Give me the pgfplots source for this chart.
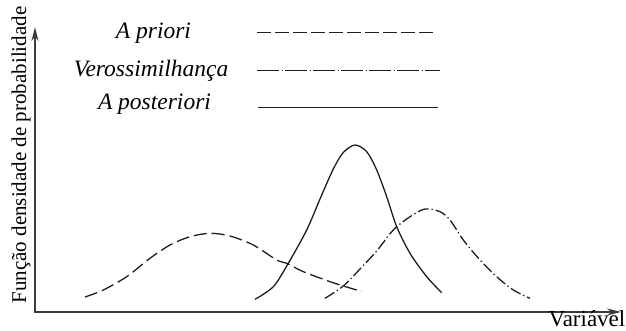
\documentclass[border=0pt]{standalone}
\usepackage{pgfplots}
\pgfplotsset{compat=1.18}
\usepackage{fontspec}
\setmainfont{Liberation Serif}
\usetikzlibrary{arrows.meta}
\definecolor{ink}{HTML}{1E1E1E}
\definecolor{axisgray}{HTML}{3A3A3A}

\begin{document}
\begin{tikzpicture}
\begin{axis}[
  x=1pt, y=1pt,
  xmin=35, xmax=620, ymin=19, ymax=303,
  hide axis,
  clip=false,
]
% axis lines
\draw[axisgray, line width=2pt, -{Stealth[length=14pt,width=7pt]}] (axis cs:34,19) -- (axis cs:621,19);
\draw[axisgray, line width=2pt, -{Stealth[length=14pt,width=7pt]}] (axis cs:35,18) -- (axis cs:35,304);
% A priori (dashed)
\addplot[ink, line width=1.3pt, smooth, dash pattern={on 13pt off 5pt}] coordinates {
 (85,34) (103.3,41) (126.7,54.3) (150,72.7) (170,86) (190,94.3) (210,97.7)
 (230,95) (253.3,86) (276.7,71) (286.7,67.7) (303.3,59.3) (330,49.3) (340,46) (361.7,39.5)
};
% Verossimilhanca (dash-dot)
\addplot[ink, line width=1.3pt, smooth, dash pattern={on 11pt off 3pt on 1.3pt off 3pt}] coordinates {
 (325,32.7) (343.3,45) (360,62) (376.7,80) (393.3,101) (410,114.3) (425,122)
 (440,119.3) (450,111) (463.3,91) (480,71) (496.7,54.3) (513.3,41) (530,32.7)
};
% A posteriori (solid)
\addplot[ink, line width=1.3pt, smooth] coordinates {
 (255,31.7) (273.3,44.3) (288.3,67.7) (306.7,101) (320,132) (333.3,162) (343.3,178.5)
 (355,186) (366.7,179.3) (376.7,161) (386.7,134.3) (396.7,104.3) (410,77.7) (426.7,54.3) (441.7,38.3)
};
% legend sample lines
\addplot[ink, line width=1pt, dash pattern={on 14pt off 4pt}, forget plot] coordinates {(257,298) (435,298)};
\addplot[ink, line width=1pt, dash pattern={on 22pt off 2.5pt on 1pt off 2.5pt}, forget plot] coordinates {(257,260) (440,260)};
\addplot[ink, line width=1pt, forget plot] coordinates {(258,223) (438,223)};
% legend texts
\node[anchor=base, inner sep=0pt, font=\fontsize{23.5}{28}\selectfont\itshape] at (axis cs:153.5,292) {A priori};
\node[anchor=base, inner sep=0pt, font=\fontsize{23.5}{28}\selectfont\itshape] at (axis cs:151,254) {Verossimilhança};
\node[anchor=base, inner sep=0pt, font=\fontsize{23.5}{28}\selectfont\itshape] at (axis cs:154.5,221) {A posteriori};
% axis labels
\node[anchor=base, inner sep=0pt, rotate=90, font=\fontsize{21}{25}\selectfont] at (axis cs:26,176) {Função densidade de probabilidade};
\node[anchor=base east, inner sep=0pt, font=\fontsize{23}{27}\selectfont] at (axis cs:625.5,4.5) {Variável};
\coordinate (BL) at (axis cs:0,0);
\coordinate (TR) at (axis cs:626,331);
\end{axis}
\pgfresetboundingbox
\path (BL) rectangle (TR);
\end{tikzpicture}
\end{document}
